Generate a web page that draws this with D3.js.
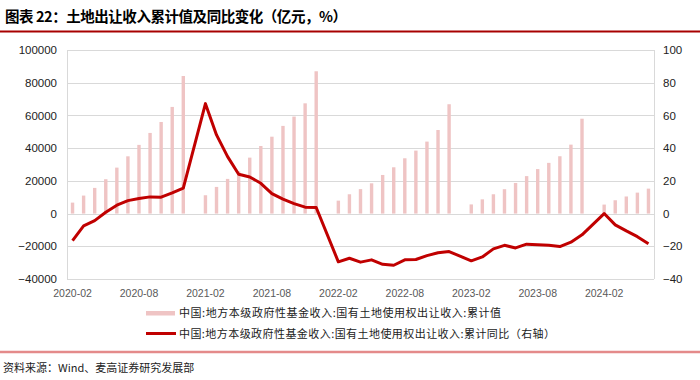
<!DOCTYPE html>
<html>
<head>
<meta charset="utf-8">
<script src="https://cdn.jsdelivr.net/npm/d3@7"></script>
<style>
  body { margin: 0; background: #fff; }
  svg { display: block; }
  text { font-family: "Liberation Sans", Arial, sans-serif; }
  .cjk { font-family: "Noto Sans CJK SC", sans-serif; }
</style>
</head>
<body>
<svg width="700" height="380"></svg>
<script>
// 月份（1月无单独数据）
var months = [
  "2020-02","2020-03","2020-04","2020-05","2020-06","2020-07","2020-08","2020-09","2020-10","2020-11","2020-12",
  "2021-01","2021-02","2021-03","2021-04","2021-05","2021-06","2021-07","2021-08","2021-09","2021-10","2021-11","2021-12",
  "2022-01","2022-02","2022-03","2022-04","2022-05","2022-06","2022-07","2022-08","2022-09","2022-10","2022-11","2022-12",
  "2023-01","2023-02","2023-03","2023-04","2023-05","2023-06","2023-07","2023-08","2023-09","2023-10","2023-11","2023-12",
  "2024-01","2024-02","2024-03","2024-04","2024-05","2024-06"
];

// 累计值（亿元）
var cumValue = [
  6700, 11000, 15700, 21000, 28100, 35000, 42000, 49300, 56000, 65200, 84100,
  null, 11200, 16300, 21200, 25800, 34200, 41300, 47000, 53600, 59300, 67400, 87000,
  null, 7900, 11800, 14950, 18500, 23600, 28300, 33800, 38500, 44000, 51100, 66850,
  null, 5600, 8700, 11800, 14900, 18700, 22900, 27200, 31000, 35050, 42150, 58000,
  null, 5500, 8150, 10450, 12800, 15250
];

// 累计同比（%，右轴）
var cumYoy = [
  -16.5, -7.5, -4.3, 0.8, 5.1, 7.9, 9.2, 10.2, 10.0, 12.6, 15.5,
  null, 67.2, 48.1, 34.8, 24.0, 22.4, 18.5, 12.2, 8.8, 6.1, 3.9, 3.7,
  null, -29.5, -27.3, -29.7, -28.3, -31.0, -31.6, -28.3, -28.1, -25.7, -24.0, -23.2,
  null, -28.9, -26.5, -21.6, -19.4, -21.0, -18.7, -19.1, -19.4, -20.2, -17.5, -13.0,
  null, 0.0, -6.9, -10.6, -14.1, -18.5
];

var leftTicks = [-40000, -20000, 0, 20000, 40000, 60000, 80000, 100000];
var rightTicks = [-40, -20, 0, 20, 40, 60, 80, 100];
var xLabels = ["2020-02","2020-08","2021-02","2021-08","2022-02","2022-08","2023-02","2023-08","2024-02"];

var titleText = "图表 22：土地出让收入累计值及同比变化（亿元，%）";
var legendNames = [
  "中国:地方本级政府性基金收入:国有土地使用权出让收入:累计值",
  "中国:地方本级政府性基金收入:国有土地使用权出让收入:累计同比（右轴）"
];
var sourceText = "资料来源：Wind、麦高证券研究发展部";

var barColor = "#efc4c4";
var lineColor = "#c00000";
var gridColor = "#d9d9d9";

var svg = d3.select("svg");
var margin = {left: 67, right: 46, top: 50, bottom: 101};
var W = 700, H = 380;

// タイトル
svg.append("text")
  .attr("class", "cjk")
  .attr("x", 5).attr("y", 22)
  .attr("font-size", 14.5)
  .attr("font-weight", "bold")
  .attr("fill", "#000")
  .attr("textLength", 342)
  .attr("lengthAdjust", "spacing")
  .text(titleText);

svg.append("line")
  .attr("x1", 0).attr("x2", W)
  .attr("y1", 31.5).attr("y2", 31.5)
  .attr("stroke", "#a80000")
  .attr("stroke-width", 2);

var x = d3.scaleBand()
  .domain(months)
  .range([margin.left, W - margin.right]);

var yL = d3.scaleLinear()
  .domain([-40000, 100000])
  .range([H - margin.bottom, margin.top]);

var yR = d3.scaleLinear()
  .domain([-40, 100])
  .range([H - margin.bottom, margin.top]);

// グリッド
svg.append("g")
  .selectAll("line")
  .data(leftTicks)
  .enter().append("line")
  .attr("x1", margin.left).attr("x2", W - margin.right)
  .attr("y1", function(d) { return Math.round(yL(d)) + 0.5; })
  .attr("y2", function(d) { return Math.round(yL(d)) + 0.5; })
  .attr("stroke", gridColor)
  .attr("stroke-width", 1);

// 枠
[margin.left, W - margin.right].forEach(function(xx) {
  svg.append("line")
    .attr("x1", xx + 0.5).attr("x2", xx + 0.5)
    .attr("y1", margin.top).attr("y2", H - margin.bottom)
    .attr("stroke", gridColor);
});

// 棒
var barW = 3.4;
svg.append("g")
  .selectAll("rect")
  .data(months.map(function(m, i) { return {m: m, v: cumValue[i]}; })
    .filter(function(d) { return d.v != null; }))
  .enter().append("rect")
  .attr("x", function(d) { return x(d.m) + x.bandwidth() / 2 - barW / 2; })
  .attr("width", barW)
  .attr("y", function(d) { return yL(d.v); })
  .attr("height", function(d) { return yL(0) - yL(d.v); })
  .attr("fill", barColor);

// 折れ線（1月は飛ばしてつなぐ）
var lineData = months.map(function(m, i) { return {m: m, v: cumYoy[i]}; })
  .filter(function(d) { return d.v != null; });

var line = d3.line()
  .x(function(d) { return x(d.m) + x.bandwidth() / 2; })
  .y(function(d) { return yR(d.v); });

svg.append("path")
  .datum(lineData)
  .attr("d", line)
  .attr("fill", "none")
  .attr("stroke", lineColor)
  .attr("stroke-width", 3)
  .attr("stroke-linejoin", "round");

// 軸
var axisL = d3.axisLeft(yL).tickValues(leftTicks).tickFormat(d3.format("d")).tickSize(0).tickPadding(10);
var gL = svg.append("g").attr("transform", "translate(" + margin.left + ",0)").call(axisL);
gL.select(".domain").remove();
gL.selectAll("text").attr("font-size", 11.5).attr("fill", "#222").attr("font-family", "Liberation Sans, Arial, sans-serif");

var axisR = d3.axisRight(yR).tickValues(rightTicks).tickSize(0).tickPadding(9);
var gR = svg.append("g").attr("transform", "translate(" + (W - margin.right) + ",0)").call(axisR);
gR.select(".domain").remove();
gR.selectAll("text").attr("font-size", 11.5).attr("fill", "#222").attr("font-family", "Liberation Sans, Arial, sans-serif");

var axisB = d3.axisBottom(x).tickValues(xLabels).tickSize(0).tickPadding(11);
var gB = svg.append("g").attr("transform", "translate(0," + (H - margin.bottom) + ")").call(axisB);
gB.select(".domain").remove();
gB.selectAll("text").attr("font-size", 10.5).attr("fill", "#595959").attr("font-family", "Liberation Sans, Arial, sans-serif");

// 凡例
var legendLen = [322, 376];
var lg = svg.append("g");
lg.append("rect")
  .attr("x", 146).attr("y", 311).attr("width", 29).attr("height", 4.5)
  .attr("fill", barColor);
lg.append("line")
  .attr("x1", 146).attr("x2", 176).attr("y1", 333.5).attr("y2", 333.5)
  .attr("stroke", lineColor).attr("stroke-width", 3);
lg.selectAll("text.leg")
  .data(legendNames)
  .enter().append("text")
  .attr("class", "cjk leg")
  .attr("x", 179)
  .attr("y", function(d, i) { return 317 + i * 20.5; })
  .attr("font-size", 11)
  .attr("fill", "#222")
  .attr("textLength", function(d, i) { return legendLen[i]; })
  .attr("lengthAdjust", "spacing")
  .text(function(d) { return d; });

// 下部
svg.append("line")
  .attr("x1", 0).attr("x2", W).attr("y1", 352).attr("y2", 352)
  .attr("stroke", "#e48a8a").attr("stroke-width", 2.5);

svg.append("text")
  .attr("class", "cjk")
  .attr("x", 3).attr("y", 372)
  .attr("font-size", 11)
  .attr("fill", "#222")
  .text(sourceText);
</script>
</body>
</html>
